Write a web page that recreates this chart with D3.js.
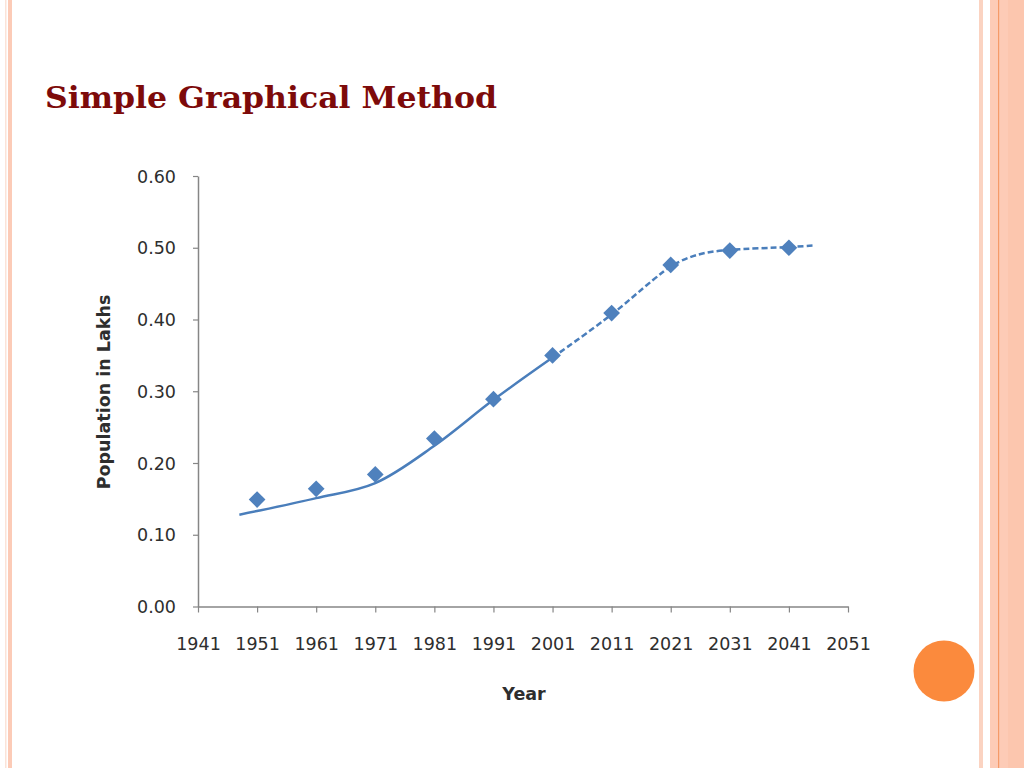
<!DOCTYPE html>
<html><head><meta charset="utf-8">
<script src="https://cdn.jsdelivr.net/npm/d3@7"></script>
<style>html,body{margin:0;padding:0;background:#fff;}svg{display:block;}</style>
</head><body>
<svg id="chart" width="1024" height="768"></svg>
<script>
const titleText = "Simple Graphical Method";
const xLabel = "Year";
const yLabel = "Population in Lakhs";
const pointYears = [1951, 1961, 1971, 1981, 1991, 2001, 2011, 2021, 2031, 2041];
const pointValues = [0.149, 0.164, 0.184, 0.234, 0.289, 0.350, 0.409, 0.476, 0.496, 0.500];
const curveYears = [1948, 1951, 1961, 1971, 1981, 1991, 2001, 2011, 2018, 2021, 2024, 2027, 2031, 2041, 2045];
const curveValues = [0.128, 0.133, 0.151, 0.172, 0.224, 0.288, 0.347, 0.407, 0.455, 0.474, 0.486, 0.493, 0.497, 0.501, 0.503];
const dashFromYear = 2001;
const xTicks = [1941, 1951, 1961, 1971, 1981, 1991, 2001, 2011, 2021, 2031, 2041, 2051];
const yTicks = [0.0, 0.1, 0.2, 0.3, 0.4, 0.5, 0.6];

const svg = d3.select("#chart");

// slide decorations
svg.append("rect").attr("x",5).attr("y",0).attr("width",1.5).attr("height",768).attr("fill","#fbe3d8");
svg.append("rect").attr("x",8).attr("y",0).attr("width",4).attr("height",768).attr("fill","#fccbb7");
svg.append("rect").attr("x",979).attr("y",0).attr("width",4).attr("height",768).attr("fill","#fbd3c1");
svg.append("rect").attr("x",990).attr("y",0).attr("width",34).attr("height",768).attr("fill","#fdcbb6");
svg.append("rect").attr("x",1008).attr("y",0).attr("width",16).attr("height",768).attr("fill","#fcc6ae");
svg.append("rect").attr("x",998).attr("y",0).attr("width",1.2).attr("height",768).attr("fill","#f59a68");
svg.append("circle").attr("cx",944).attr("cy",671).attr("r",30.5).attr("fill","#fb8a3d");

// title
svg.append("text").attr("x",45).attr("y",108)
  .attr("font-family","'DejaVu Serif', 'Liberation Serif', serif")
  .attr("font-weight","bold").attr("font-size",30).attr("fill","#7d0a0a")
  .attr("textLength",452).attr("lengthAdjust","spacingAndGlyphs")
  .text(titleText);

const x = d3.scaleLinear().domain([1941, 2051]).range([198, 848]);
const y = d3.scaleLinear().domain([0, 0.6]).range([606.5, 176]);

const axisColor = "#868686";
const labelColor = "#2e2e2e";
const fontFam = "'DejaVu Sans', sans-serif";

const gx = svg.append("g").attr("transform","translate(0,606.5)")
  .call(d3.axisBottom(x).tickValues(xTicks).tickFormat(d3.format("d")).tickSizeInner(6).tickSizeOuter(0).tickPadding(25));
const gy = svg.append("g").attr("transform","translate(198,0)")
  .call(d3.axisLeft(y).tickValues(yTicks).tickFormat(d3.format(".2f")).tickSizeInner(5).tickSizeOuter(0).tickPadding(17));
[gx, gy].forEach(g => {
  g.selectAll("path.domain").attr("stroke",axisColor).attr("stroke-width",1.5);
  g.selectAll(".tick line").attr("stroke",axisColor).attr("stroke-width",1.2);
  g.selectAll(".tick text").attr("fill",labelColor).attr("font-family",fontFam).attr("font-size",17.5);
});
gy.selectAll(".tick text").attr("dy","0.35em");

svg.append("text").attr("x",524).attr("y",700).attr("text-anchor","middle")
  .attr("font-family",fontFam).attr("font-weight","bold").attr("font-size",17.5).attr("fill",labelColor)
  .text(xLabel);
svg.append("text").attr("transform","translate(110,392) rotate(-90)").attr("text-anchor","middle")
  .attr("font-family",fontFam).attr("font-weight","bold").attr("font-size",17.5).attr("fill",labelColor)
  .text(yLabel);

// fitted curve
const curveData = curveYears.map((yr,i)=>({yr, v: curveValues[i]}));
const line = d3.line().x(d=>x(d.yr)).y(d=>y(d.v)).curve(d3.curveCatmullRom.alpha(0.5));
const lineColor = "#4a7ebb";
svg.append("path").datum(curveData.filter(d=>d.yr<=dashFromYear))
  .attr("d",line).attr("fill","none").attr("stroke",lineColor).attr("stroke-width",2.5);
svg.append("path").datum(curveData.filter(d=>d.yr>=dashFromYear))
  .attr("d",line).attr("fill","none").attr("stroke",lineColor).attr("stroke-width",2.5)
  .attr("stroke-dasharray","6,3");

// markers
const sym = d3.symbol().type(d3.symbolSquare).size(140);
svg.append("g").selectAll("path").data(pointYears.map((yr,i)=>({yr, v: pointValues[i]})))
  .join("path").attr("d",sym)
  .attr("transform",d=>`translate(${x(d.yr)},${y(d.v)}) rotate(45)`)
  .attr("fill","#4f81bd");
</script>
</body></html>
